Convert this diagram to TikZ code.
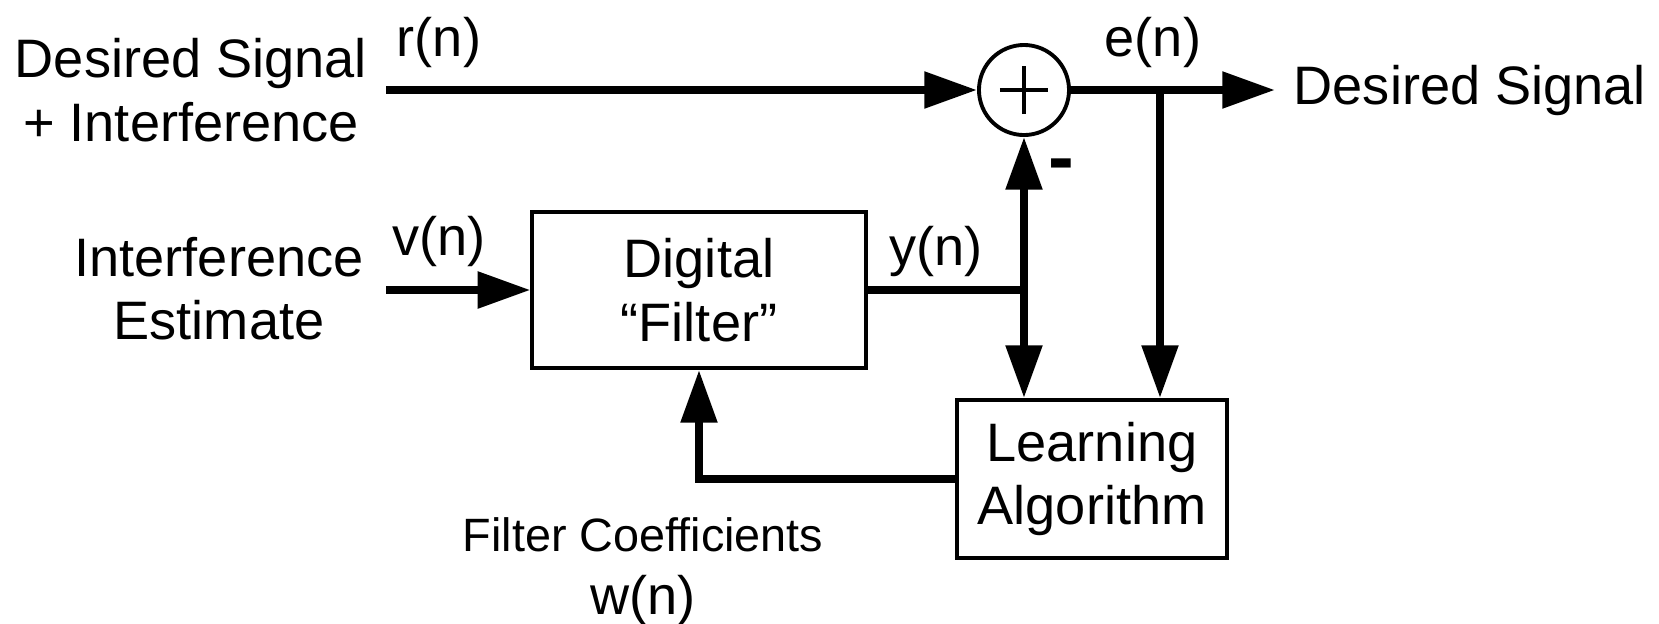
\documentclass[tikz,border=0pt]{standalone}
\usepackage{fontspec}
\setmainfont{Liberation Sans}
\usetikzlibrary{arrows.meta,positioning}

\begin{document}
\begin{tikzpicture}[x=0.01cm,y=-0.01cm]
    \tikzset{block/.style = {shape=rectangle, draw, line width=1.1pt, align=center, font=\fontsize{15.4}{18}\selectfont}}
    \tikzset{sum/.style = {shape=circle, draw, line width=1.1pt, minimum size=0.9cm, inner sep=0pt,
        path picture={
            \draw[line width=1.1pt] ([xshift=-0.24cm]path picture bounding box.center) -- ([xshift=0.24cm]path picture bounding box.center);
            \draw[line width=1.1pt] ([yshift=-0.24cm]path picture bounding box.center) -- ([yshift=0.24cm]path picture bounding box.center);}}}
    \tikzset{lbl/.style = {inner sep=0pt, align=center, font=\fontsize{15.4}{18}\selectfont}}
    \tikzset{edge/.style = {-{Triangle[length=15pt,width=10pt]}, line width=2.3pt}}

    \useasboundingbox (0,0) rectangle (1659,624);

    \node[sum] (sum) at (1024,90) {};
    \node[block, minimum width=3.33cm, minimum height=1.56cm] (filt) at (699,290) {Digital\\“Filter”};
    \node[block, minimum width=2.7cm, minimum height=1.58cm] (learn) at (1092,479) {Learning\\Algorithm};

    \coordinate (rin) at (386,90);
    \coordinate (vin) at (386,290);
    \coordinate (eout) at (1275,90);
    \coordinate (ej) at (1160,90);
    \coordinate (yj) at (sum.south |- filt.east);

    \node[lbl] (sigin) at (191,90) {Desired Signal\\+ Interference};
    \node[lbl] (estin) at (219,289) {Interference\\Estimate};
    \node[lbl] (rlbl) at (439,42) {r(n)};
    \node[lbl] (vlbl) at (439,241) {v(n)};
    \node[lbl] (elbl) at (1153,42) {e(n)};
    \node[lbl] (ylbl) at (936,251) {y(n)};
    \node[lbl, right=0.18cm of eout] (sigout) {Desired Signal};
    \node[inner sep=0pt, font=\fontsize{13.3}{16}\selectfont] (coeflbl) at (643,535) {Filter Coefficients};
    \node[lbl] (wlbl) at (643,600) {w(n)};
    \node[inner sep=0pt, font=\bfseries\fontsize{22}{22}\selectfont] (minus) at (1061,171) {-};

    \draw[edge] (rin) to (sum.west);
    \draw[edge] (sum.east) to (eout);
    \draw[edge] (vin) to (filt.west);
    \draw[edge] (filt.east) -- (yj) -- (sum.south);
    \draw[edge] (yj) to (yj |- learn.north);
    \draw[edge] (ej) to (ej |- learn.north);
    \draw[edge] (learn.west) -| (filt.south);
\end{tikzpicture}
\end{document}
